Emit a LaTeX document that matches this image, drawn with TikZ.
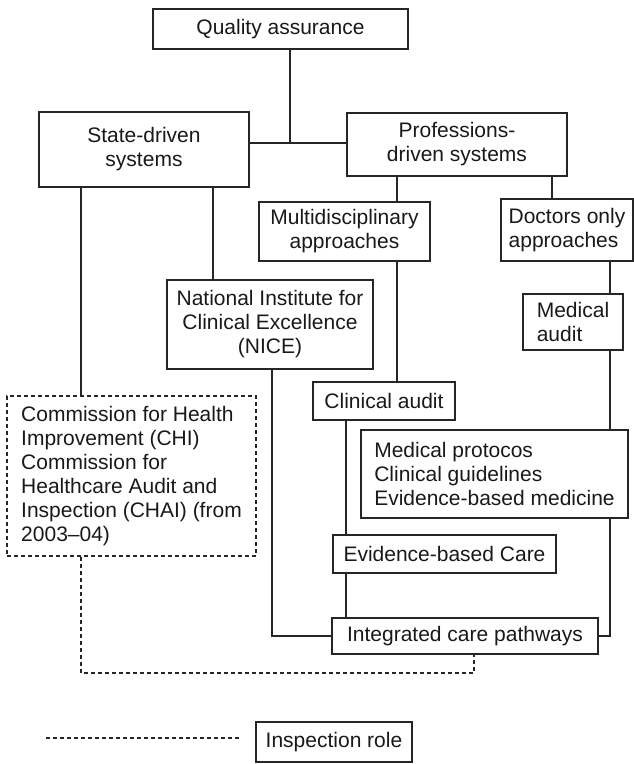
\documentclass[tikz,border=0pt]{standalone}
\usepackage{fontspec}
\setmainfont{Liberation Sans}
\begin{document}
\begin{tikzpicture}[x=1pt,y=-1pt,
  every node/.style={font=\fontsize{21}{24}\selectfont, text=black!90},
  box/.style={draw=black!85, line width=1.1pt, inner sep=0pt, align=center},
  lbox/.style={draw=black!85, line width=1.1pt, inner sep=0pt, align=left},
  dbox/.style={draw=black!85, line width=1.1pt, dash pattern=on 4pt off 3pt, inner sep=0pt, align=left},
  conn/.style={draw=black!85, line width=1.1pt},
  insp/.style={draw=black!85, line width=1.1pt, dash pattern=on 4pt off 3pt}]
\useasboundingbox (0,0) rectangle (634,764);

% boxes
\node[box, minimum width=255pt, minimum height=40pt] (qa) at (280.5,29) {Quality assurance};
\node[box, minimum width=210pt, minimum height=75pt] (state) at (144,149.5) {State-driven\\systems};
\node[box, minimum width=220pt, minimum height=63pt] (prof) at (457,144.5) {Professions-\\driven systems};
\node[box, minimum width=171pt, minimum height=59pt] (multi) at (344.5,231.5) {Multidisciplinary\\approaches};
\node[lbox, minimum width=132pt, minimum height=62pt] (doc) at (567,230) {Doctors only\\approaches};
\node[box, minimum width=206pt, minimum height=89pt] (nice) at (270,324.5) {National Institute for\\Clinical Excellence\\(NICE)};
\node[lbox, minimum width=100pt, minimum height=56pt] (med) at (573,322) {Medical\\audit};
\node[box, minimum width=142pt, minimum height=38pt] (clin) at (384,401) {Clinical audit};
\node[dbox, minimum width=249pt, minimum height=160pt] (chi) at (131.5,476) {Commission for Health\\Improvement (CHI)\\Commission for\\Healthcare Audit and\\Inspection (CHAI) (from\\2003--04)};
\node[lbox, minimum width=267pt, minimum height=88pt] (prot) at (494.5,474) {Medical protocos\\Clinical guidelines\\Evidence-based medicine};
\node[box, minimum width=223pt, minimum height=38pt] (ebc) at (444.5,554) {Evidence-based Care};
\node[box, minimum width=266pt, minimum height=36pt] (icp) at (465,636) {Integrated care pathways};
\node[box, minimum width=156pt, minimum height=40pt] (leg) at (334,742) {Inspection role};

% helper coordinates
\coordinate (j) at (290,143);
\coordinate (xb) at (397,0);
\coordinate (xc) at (552,0);
\coordinate (xd) at (610,0);
\coordinate (xe) at (81,0);
\coordinate (xf) at (213,0);
\coordinate (xg) at (272,0);
\coordinate (xh) at (346,0);
\coordinate (dd) at (474,673);
\coordinate (la) at (46,738);
\coordinate (lb) at (241,738);

% connectors
\draw[conn] (qa.south -| j) -- (j);
\draw[conn] (state.east |- j) -- (prof.west |- j);
\draw[conn] (prof.south -| xb) -- (multi.north -| xb);
\draw[conn] (prof.south -| xc) -- (doc.north -| xc);
\draw[conn] (state.south -| xe) -- (chi.north -| xe);
\draw[conn] (state.south -| xf) -- (nice.north -| xf);
\draw[conn] (multi.south -| xb) -- (clin.north -| xb);
\draw[conn] (doc.south -| xd) -- (med.north -| xd);
\draw[conn] (med.south -| xd) -- (prot.north -| xd);
\draw[conn] (clin.south -| xh) -- (ebc.north -| xh);
\draw[conn] (ebc.south -| xh) -- (icp.north -| xh);
\draw[conn] (nice.south -| xg) |- (icp.west);
\draw[conn] (prot.south -| xd) |- (icp.east);
\draw[insp] (chi.south -| xe) |- (dd) -- (icp.south -| dd);
\draw[insp] (la) -- (lb);
\end{tikzpicture}
\end{document}
